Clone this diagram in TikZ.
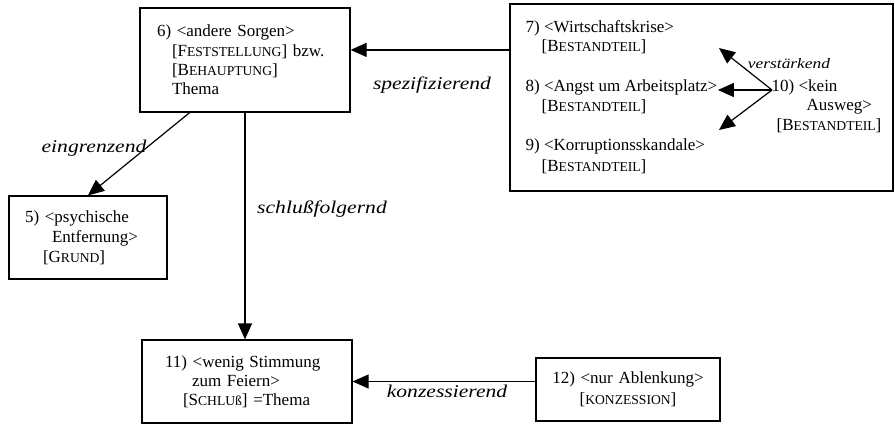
\documentclass[tikz,border=0pt]{standalone}
\usepackage{fontspec}
\setmainfont{Liberation Serif}
\newfontface\labfont{Liberation Serif Italic}[FakeStretch=1.2]
\usetikzlibrary{arrows.meta,calc}
\newcommand\sck[1]{{\fontsize{13.6}{19}\selectfont #1}}
\begin{document}
\begin{tikzpicture}[x=1pt,y=-1pt,
  body/.style={font=\fontsize{17}{19}\selectfont},
  box/.style={draw,line width=1.2pt,inner ysep=0pt,body},
  txt/.style={inner sep=0.5pt,body,anchor=base west},
  lab/.style={inner sep=0pt,anchor=base,font=\labfont\fontsize{18}{20}\selectfont},
  arr/.style={-{Triangle[length=16pt,width=14pt]},line width=1.2pt}]
\useasboundingbox (0,0) rectangle (895,424);

\node[box,inner xsep=17pt,text width=176pt,minimum height=104pt,align=left,
      font=\fontsize{17}{19.3}\selectfont] (b6) at (245,60)
  {6) <andere Sorgen>\\\hspace*{15pt}[F\sck{ESTSTELLUNG}] bzw.\\\hspace*{15pt}[B\sck{EHAUPTUNG}]\\\hspace*{15pt}Thema};

\node[box,inner xsep=16pt,text width=126pt,minimum height=83pt,align=left,
      font=\fontsize{17}{20}\selectfont] (b5) at (88,237.5)
  {5) <psychische\\\hspace*{27pt}Entfernung>\\\hspace*{18pt}[G\sck{RUND}]};

\node[box,inner xsep=23pt,text width=164pt,minimum height=83pt,align=left,
      font=\fontsize{17}{19}\selectfont] (b11) at (247,381.5)
  {11) <wenig Stimmung\\\hspace*{27pt}zum Feiern>\\\hspace*{18pt}[S\sck{CHLU}\sck{ß}] =Thema};

\node[box,inner xsep=4pt,text width=176pt,minimum height=63pt,align=center,
      font=\fontsize{17}{21}\selectfont] (b12) at (628,389.5)
  {12) <nur Ablenkung>\\\relax[\sck{KONZESSION}]};

\node[draw,line width=1.2pt,minimum width=383pt,minimum height=187pt] (grp) at (701.5,97.5) {};

\node[txt] (n7)  at (525,32)  {7) <Wirtschaftskrise>};
\node[txt] (n7b) at (541,51)  {[B\sck{ESTANDTEIL}]};
\node[txt] (n8)  at (525,91)  {8) <Angst um Arbeitsplatz>};
\node[txt] (n8b) at (541,111) {[B\sck{ESTANDTEIL}]};
\node[txt] (n9)  at (525,150) {9) <Korruptionsskandale>};
\node[txt] (n9b) at (541,171) {[B\sck{ESTANDTEIL}]};
\node[txt] (n10)  at (771,91)  {10) <kein};
\node[txt] (n10b) at (806,110) {Ausweg>};
\node[txt] (n10c) at (776,130) {[B\sck{ESTANDTEIL}]};
\node[lab,font=\labfont\fontsize{14.5}{16}\selectfont] (lv) at (789,68) {verstärkend};

\coordinate (o10) at ($(n10.base west)+(1,-1)$);
\coordinate (t7) at (719,48);
\coordinate (t9) at (719,130);
\draw[arr] (o10) -- (t7);
\draw[arr] (o10) -- (n8.east |- o10);
\draw[arr] (o10) -- (t9);

\coordinate (p6) at ($(b6.north east)!0.404!(b6.south east)$);
\draw[arr] (grp.west |- p6) -- (p6);
\draw[arr] ($(b6.south west)!0.238!(b6.south east)$) -- (b5.north);
\draw[arr] (b6.south) -- (b6.south |- b11.north);
\draw[arr] (b12.west |- b11.east) -- (b11.east);

\node[lab] (ls) at (432,89)  {spezifizierend};
\node[lab] (le) at (94,152)  {eingrenzend};
\node[lab] (lf) at (322,213) {schlußfolgernd};
\node[lab] (lk) at (447,397) {konzessierend};
\end{tikzpicture}
\end{document}
